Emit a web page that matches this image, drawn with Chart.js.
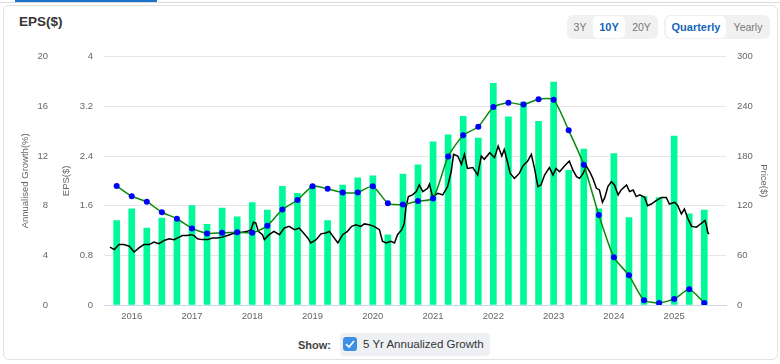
<!DOCTYPE html>
<html>
<head>
<meta charset="utf-8">
<script src="https://cdn.jsdelivr.net/npm/chart.js@4.4.1/dist/chart.umd.min.js"></script>
<style>
  body { margin: 0; background: #fff; font-family: "Liberation Sans", Arial, sans-serif; }
  #page { position: relative; width: 780px; height: 364px; overflow: hidden; }
  .topline { position: absolute; left: 0; top: 2px; width: 780px; height: 1px; background: #dcdcdc; }
  .tabline { position: absolute; left: 15px; top: 0; width: 142px; height: 2px; background: #1a73c8; }
  .card { position: absolute; left: 3px; top: 5px; width: 773px; height: 353px; border: 1px solid #e2e2e2; border-radius: 6px; }
  .title { position: absolute; left: 19px; top: 14px; font-size: 13.5px; font-weight: bold; color: #333; }
  .btns { position: absolute; top: 15px; height: 24px; background: #f1f1f1; border-radius: 6px; display: flex; align-items: center; font-size: 10.5px; color: #777; }
  .btns span { display: block; text-align: center; line-height: 22px; height: 22px; border-radius: 5px; }
  .btns span.on { background: #fff; color: #1565b8; font-weight: bold; font-size: 11px; }
  #chartBox { position: absolute; left: 0; top: 40px; width: 780px; height: 285px; }
  .show { position: absolute; left: 298px; top: 339px; font-size: 11px; font-weight: bold; color: #444; }
  .pill { position: absolute; left: 340px; top: 333px; width: 150px; height: 23px; background: #eef0f3; border-radius: 4px; }
  .box { position: absolute; left: 3px; top: 4px; width: 14px; height: 14px; background: #3d8fe6; border-radius: 3px; }
  .pill .lbl { position: absolute; left: 23px; top: 5px; font-size: 11.5px; color: #333; white-space: nowrap; }
</style>
</head>
<body>
<div id="page">
  <div class="topline"></div>
  <div class="tabline"></div>
  <div class="card"></div>
  <div class="title">EPS($)</div>
  <div class="btns" style="left:567px;width:91px;">
    <span style="width:26px;">3Y</span>
    <span class="on" style="width:32px;">10Y</span>
    <span style="width:33px;">20Y</span>
  </div>
  <div class="btns" style="left:664px;width:106px;">
    <span class="on" style="width:60px;margin-left:2px;">Quarterly</span>
    <span style="width:44px;">Yearly</span>
  </div>
  <div id="chartBox"><canvas id="epsChart"></canvas></div>
  <div class="show">Show:</div>
  <div class="pill">
    <div class="box"><svg width="14" height="14" viewBox="0 0 14 14"><path d="M3 7.2 L6 10 L11 4" stroke="#fff" stroke-width="1.6" fill="none"/></svg></div>
    <div class="lbl">5 Yr Annualized Growth</div>
  </div>
</div>
<script>
// quarter ends, as decimal years
const quarterEnds = [
  2015.75, 2016.0, 2016.25, 2016.5, 2016.75, 2017.0, 2017.25, 2017.5, 2017.75, 2018.0,
  2018.25, 2018.5, 2018.75, 2019.0, 2019.25, 2019.5, 2019.75, 2020.0, 2020.25, 2020.5,
  2020.75, 2021.0, 2021.25, 2021.5, 2021.75, 2022.0, 2022.25, 2022.5, 2022.75, 2023.0,
  2023.25, 2023.5, 2023.75, 2024.0, 2024.25, 2024.5, 2024.75, 2025.0, 2025.25, 2025.5
];
const epsValues = [
  1.36, 1.55, 1.24, 1.40, 1.37, 1.60, 1.30, 1.56, 1.42, 1.65,
  1.53, 1.91, 1.80, 1.92, 1.36, 1.93, 2.05, 2.08, 1.13, 2.11,
  2.26, 2.63, 2.74, 3.04, 2.69, 3.57, 3.03, 3.27, 2.96, 3.59,
  2.17, 2.51, 1.55, 2.44, 1.41, 1.75, 1.73, 2.72, 1.47, 1.53
];
const growthValues = [
  9.59, 8.76, 8.32, 7.47, 6.95, 6.17, 5.76, 5.81, 5.86, 5.81,
  6.38, 7.70, 8.45, 9.57, 9.36, 9.07, 9.07, 9.57, 8.19, 8.09,
  8.37, 8.58, 11.97, 13.68, 14.36, 15.94, 16.30, 16.14, 16.58, 16.53,
  14.07, 11.30, 7.24, 3.84, 2.39, 0.38, 0.17, 0.48, 1.26, 0.17
];
const priceYears = [
  2015.64, 2015.71, 2015.79, 2015.87, 2015.96, 2016.04, 2016.12, 2016.20, 2016.29, 2016.37,
  2016.45, 2016.54, 2016.62, 2016.70, 2016.79, 2016.84, 2016.92, 2016.98, 2017.03, 2017.09,
  2017.17, 2017.26, 2017.34, 2017.42, 2017.50, 2017.59, 2017.67, 2017.75, 2017.84, 2017.92,
  2017.98, 2018.02, 2018.06, 2018.10, 2018.17, 2018.20, 2018.28, 2018.36, 2018.45, 2018.53,
  2018.61, 2018.70, 2018.78, 2018.85, 2018.92, 2018.97, 2019.06, 2019.14, 2019.22, 2019.28,
  2019.36, 2019.42, 2019.50, 2019.58, 2019.65, 2019.72, 2019.80, 2019.86, 2019.94, 2020.02,
  2020.11, 2020.16, 2020.22, 2020.30, 2020.36, 2020.41, 2020.48, 2020.52, 2020.55, 2020.59,
  2020.66, 2020.72, 2020.77, 2020.83, 2020.91, 2020.94, 2020.99, 2021.08, 2021.16, 2021.24,
  2021.30, 2021.34, 2021.41, 2021.47, 2021.52, 2021.57, 2021.66, 2021.74, 2021.80, 2021.85,
  2021.94, 2022.02, 2022.08, 2022.14, 2022.18, 2022.23, 2022.28, 2022.35, 2022.43, 2022.49,
  2022.57, 2022.63, 2022.68, 2022.74, 2022.79, 2022.85, 2022.93, 2022.99, 2023.04, 2023.10,
  2023.18, 2023.26, 2023.32, 2023.38, 2023.43, 2023.49, 2023.54, 2023.60, 2023.65, 2023.71,
  2023.76, 2023.81, 2023.85, 2023.90, 2023.96, 2024.01, 2024.07, 2024.12, 2024.21, 2024.26,
  2024.32, 2024.37, 2024.43, 2024.51, 2024.56, 2024.62, 2024.70, 2024.79, 2024.87, 2024.92,
  2025.01, 2025.06, 2025.12, 2025.17, 2025.23, 2025.29, 2025.37, 2025.42, 2025.51, 2025.53,
  2025.56, 2025.58
];
const priceValues = [
  70, 67, 73, 73, 71, 64, 69, 73, 73, 76,
  74, 78, 80, 79, 82, 84, 84, 85, 84, 80,
  79, 79, 81, 81, 82, 84, 86, 87, 88, 89,
  91, 100, 99, 89, 85, 79, 85, 89, 85, 93,
  95, 91, 93, 87, 81, 75, 79, 86, 87, 89,
  81, 75, 85, 89, 95, 97, 95, 98, 97, 95,
  91, 77, 75, 77, 75, 85, 91, 98, 118, 131,
  133, 137, 145, 137, 141, 146, 131, 135, 133, 143,
  161, 182, 180, 170, 182, 165, 166, 157, 180, 176,
  184, 178, 192, 180, 188, 174, 159, 153, 159, 168,
  174, 182, 166, 143, 145, 157, 166, 157, 165, 161,
  168, 174, 163, 155, 153, 159, 168, 161, 153, 141,
  139, 124, 130, 143, 149, 145, 133, 139, 145, 137,
  139, 131, 133, 130, 120, 122, 126, 130, 130, 122,
  124, 120, 110, 116, 104, 95, 94, 97, 102, 98,
  87, 86
];
const yearTicks = [2016, 2017, 2018, 2019, 2020, 2021, 2022, 2023, 2024, 2025];

const tickFont = { family: '"Liberation Sans", Arial, sans-serif', size: 9.5 };
const tickColor = '#666';

function pairs(xs, ys) {
  return xs.map((x, i) => ({ x: x, y: ys[i] }));
}

new Chart(document.getElementById('epsChart'), {
  type: 'bar',
  data: {
    datasets: [
      {
        type: 'line',
        label: '5 Yr Annualized Growth',
        data: pairs(quarterEnds, growthValues),
        yAxisID: 'yGrowth',
        borderColor: '#0a8a0a',
        borderWidth: 1.5,
        tension: 0.2,
        pointRadius: 3,
        pointBackgroundColor: '#0000ff',
        pointBorderWidth: 0,
        order: 0
      },
      {
        type: 'line',
        label: 'Price',
        data: pairs(priceYears, priceValues),
        yAxisID: 'yPrice',
        borderColor: '#000',
        borderWidth: 1.5,
        pointRadius: 0,
        tension: 0,
        order: 1
      },
      {
        type: 'bar',
        label: 'EPS',
        data: pairs(quarterEnds, epsValues),
        yAxisID: 'yEps',
        backgroundColor: '#00fa9a',
        barThickness: 6,
        order: 2
      }
    ]
  },
  options: {
    responsive: true,
    maintainAspectRatio: false,
    animation: false,
    layout: { padding: { top: 7, left: 0, right: 0, bottom: 0 } },
    plugins: { legend: { display: false }, tooltip: { enabled: false } },
    scales: {
      x: {
        type: 'linear',
        position: 'bottom',
        min: 2015.54,
        max: 2025.86,
        offset: false,
        grid: { display: false, drawTicks: false },
        border: { display: true, color: '#ccd6eb', width: 1 },
        afterBuildTicks: s => { s.ticks = yearTicks.map(v => ({ value: v })); },
        ticks: {
          autoSkip: false, maxRotation: 0, padding: 6, color: tickColor, font: tickFont,
          callback: v => String(v)
        },
        afterFit: s => { s.height = 20; }
      },
      yGrowth: {
        position: 'left',
        weight: 1,
        min: 0, max: 20,
        grid: { display: false, drawTicks: false },
        border: { display: false },
        ticks: { stepSize: 4, padding: 4, color: tickColor, font: tickFont },
        title: { display: true, text: 'Annualised Growth(%)', color: tickColor, font: tickFont, padding: { top: 20, bottom: 0 } },
        afterFit: s => { s.width = 52; }
      },
      yEps: {
        position: 'left',
        weight: 0,
        min: 0, max: 4,
        grid: { color: '#e6e6e6', drawTicks: false },
        border: { display: false },
        ticks: { stepSize: 0.8, padding: 11, color: tickColor, font: tickFont, callback: v => String(Number(v.toFixed(1))) },
        title: { display: true, text: 'EPS($)', color: tickColor, font: tickFont, padding: { top: 9, bottom: 0 } },
        afterFit: s => { s.width = 52; }
      },
      yPrice: {
        position: 'right',
        min: 0, max: 300,
        grid: { display: false, drawTicks: false },
        border: { display: false },
        ticks: { stepSize: 60, padding: 11, color: tickColor, font: tickFont },
        title: { display: true, text: 'Price($)', color: tickColor, font: tickFont, padding: { top: 11, bottom: 0 } },
        afterFit: s => { s.width = 54; }
      }
    }
  }
});
</script>
</body>
</html>
